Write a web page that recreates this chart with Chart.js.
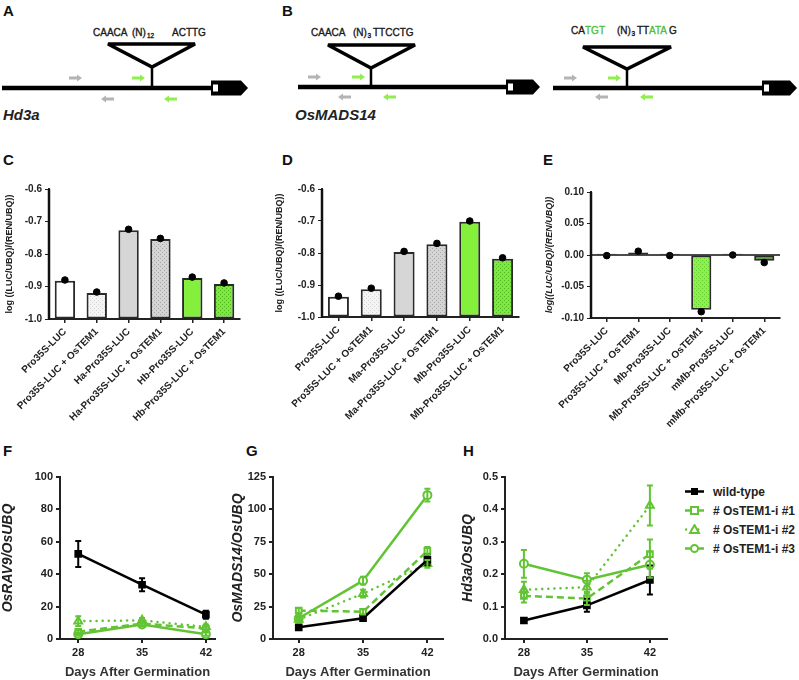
<!DOCTYPE html>
<html>
<head>
<meta charset="utf-8">
<script src="https://cdn.jsdelivr.net/npm/chart.js@4.4.0/dist/chart.umd.min.js"></script>
<style>
body { margin: 0; background: #fff; width: 799px; height: 680px; position: relative; overflow: hidden; font-family: 'Liberation Sans', Arial, sans-serif; }
canvas { position: absolute; }
.lt { position: absolute; font-weight: bold; font-size: 15px; color: #111; line-height: 1; }
#legend { position: absolute; left: 685px; top: 482px; }
.row { display: flex; align-items: center; height: 19px; font-size: 12px; font-weight: bold; color: #222; }
.row svg { margin-right: 9px; }
</style>
</head>
<body>

<!-- promoter diagrams (A, B) -->
<svg width="799" height="150" style="position:absolute;left:0;top:0" font-family="Liberation Sans, Arial, sans-serif" font-size="10" fill="#1a1a1a" stroke-width="0">
  <defs>
    <path id="ra" d="M0,-1.6 H8 V-3.6 L13,0 L8,3.6 V1.6 H0 Z"/>
    <path id="la" d="M13,-1.6 H5 V-3.6 L0,0 L5,3.6 V1.6 H13 Z"/>
  </defs>

  <g stroke="#1a1a1a" stroke-width="0.35">
  <!-- Hd3a -->
  <text x="93" y="36">CAACA</text>
  <text x="132" y="36">(N)</text><text x="147" y="38" font-size="6.5">12</text>
  <text x="172" y="36">ACTTG</text>
  <!-- OsMADS14 -->
  <text x="311" y="36">CAACA</text>
  <text x="353" y="36">(N)</text><text x="367.5" y="38" font-size="6.5">3</text>
  <text x="373" y="36">TTCCTG</text>
  <!-- mutated site -->
  <text x="571" y="34">CA</text><text x="585" y="34" fill="#4cc040" stroke="#4cc040">TGT</text>
  <text x="617" y="34">(N)</text><text x="631.5" y="36" font-size="6.5">3</text>
  <text x="637" y="34">TT</text><text x="649" y="34" fill="#4cc040" stroke="#4cc040">ATA</text><text x="669" y="34">G</text>
  </g>

  <polygon points="108,44 195,44 152,67" fill="none" stroke="#000" stroke-width="3.5"/>
  <line x1="152" y1="66" x2="152" y2="88" stroke="#000" stroke-width="2.5"/>
  <line x1="2" y1="88" x2="213" y2="88" stroke="#000" stroke-width="4.5"/>
  <path d="M211,80.5 H241 L248,88 L241,95.5 H211 Z" fill="#000"/>
  <rect x="213" y="84.5" width="5" height="7" fill="#fff"/>
  <use href="#ra" x="69" y="78" fill="#b4b4b4"/>
  <use href="#ra" x="132" y="78" fill="#90ee50"/>
  <use href="#la" x="101" y="99" fill="#b4b4b4"/>
  <use href="#la" x="164" y="99" fill="#90ee50"/>

  <polygon points="328,45 415,45 371,68" fill="none" stroke="#000" stroke-width="3.5"/>
  <line x1="371" y1="67" x2="371" y2="87" stroke="#000" stroke-width="2.5"/>
  <line x1="298" y1="87" x2="508" y2="87" stroke="#000" stroke-width="4.5"/>
  <path d="M506,79.5 H533 L540,87 L533,94.5 H506 Z" fill="#000"/>
  <rect x="508" y="83.5" width="5" height="7" fill="#fff"/>
  <use href="#ra" x="308" y="77" fill="#b4b4b4"/>
  <use href="#ra" x="352" y="77" fill="#90ee50"/>
  <use href="#la" x="338" y="97" fill="#b4b4b4"/>
  <use href="#la" x="383" y="97" fill="#90ee50"/>

  <polygon points="583,47 671,47 627,69" fill="none" stroke="#000" stroke-width="3.5"/>
  <line x1="627" y1="68" x2="627" y2="88" stroke="#000" stroke-width="2.5"/>
  <line x1="553" y1="88" x2="764" y2="88" stroke="#000" stroke-width="4.5"/>
  <path d="M762,80.5 H790 L797,88 L790,95.5 H762 Z" fill="#000"/>
  <rect x="764" y="84.5" width="5" height="7" fill="#fff"/>
  <use href="#ra" x="564" y="78" fill="#b4b4b4"/>
  <use href="#ra" x="608" y="78" fill="#90ee50"/>
  <use href="#la" x="595" y="97" fill="#b4b4b4"/>
  <use href="#la" x="640" y="97" fill="#90ee50"/>

  <text x="3" y="120" font-size="15" font-weight="bold" font-style="italic" fill="#222">Hd3a</text>
  <text x="295" y="120" font-size="15" font-weight="bold" font-style="italic" fill="#222">OsMADS14</text>
</svg>

<div class="lt" style="left:3px;top:3px">A</div>
<div class="lt" style="left:282px;top:3px">B</div>
<div class="lt" style="left:3px;top:152px">C</div>
<div class="lt" style="left:282px;top:152px">D</div>
<div class="lt" style="left:543px;top:152px">E</div>
<div class="lt" style="left:3px;top:443px">F</div>
<div class="lt" style="left:246px;top:443px">G</div>
<div class="lt" style="left:463px;top:443px">H</div>

<canvas id="chartC" width="250" height="290" style="left:0;top:150px"></canvas>
<canvas id="chartD" width="260" height="290" style="left:270px;top:150px"></canvas>
<canvas id="chartE" width="259" height="290" style="left:540px;top:150px"></canvas>
<canvas id="chartF" width="230" height="230" style="left:0;top:450px"></canvas>
<canvas id="chartG" width="230" height="230" style="left:230px;top:450px"></canvas>
<canvas id="chartH" width="215" height="230" style="left:460px;top:450px"></canvas>

<div id="legend"></div>

<script>
// ---------- data ----------
const labelsC = ['Pro35S-LUC', 'Pro35S-LUC + OsTEM1', 'Ha-Pro35S-LUC', 'Ha-Pro35S-LUC + OsTEM1', 'Hb-Pro35S-LUC', 'Hb-Pro35S-LUC + OsTEM1'];
const barsC = [-0.882, -0.920, -0.727, -0.754, -0.874, -0.892];
const dotsC = [-0.880, -0.917, -0.724, -0.752, -0.871, -0.889];

const labelsD = ['Pro35S-LUC', 'Pro35S-LUC + OsTEM1', 'Ma-Pro35S-LUC', 'Ma-Pro35S-LUC + OsTEM1', 'Mb-Pro35S-LUC', 'Mb-Pro35S-LUC + OsTEM1'];
const barsD = [-0.937, -0.913, -0.797, -0.773, -0.702, -0.818];
const dotsD = [-0.935, -0.910, -0.795, -0.770, -0.700, -0.815];

const labelsE = ['Pro35S-LUC', 'Pro35S-LUC + OsTEM1', 'Mb-Pro35S-LUC', 'Mb-Pro35S-LUC + OsTEM1', 'mMb-Pro35S-LUC', 'mMb-Pro35S-LUC + OsTEM1'];
const barsE = [0.002, 0.004, 0.002, -0.087, 0.002, -0.009];
const dotsE = [-0.001, 0.006, -0.001, -0.090, 0.000, -0.012];

const days = [28, 35, 42];
const seriesNames = ['wild-type', '# OsTEM1-i #1', '# OsTEM1-i #2', '# OsTEM1-i #3'];

// OsRAV9 (F)
const ravWT = [52.5, 33.5, 15];    const ravWTerr = [8, 4, 2.5];
const ravI1 = [4.5, 9.5, 6.5];     const ravI1err = [1, 1, 1];
const ravI2 = [11, 11.5, 7.5];     const ravI2err = [3, 1.5, 1.5];
const ravI3 = [3, 9, 3];           const ravI3err = [1, 1, 1];

// OsMADS14 (G)
const madsWT = [9, 16, 61];        const madsWTerr = [1.5, 1.5, 4];
const madsI1 = [22, 21, 68];       const madsI1err = [2, 2, 3];
const madsI2 = [15, 35, 58];       const madsI2err = [2, 3, 3];
const madsI3 = [16, 45, 111];      const madsI3err = [1.5, 3, 5];

// Hd3a (H)
const hdWT = [0.057, 0.104, 0.182]; const hdWTerr = [0.008, 0.02, 0.045];
const hdI1 = [0.133, 0.125, 0.262]; const hdI1err = [0.02, 0.02, 0.045];
const hdI2 = [0.152, 0.160, 0.412]; const hdI2err = [0.025, 0.02, 0.062];
const hdI3 = [0.232, 0.183, 0.229]; const hdI3err = [0.043, 0.02, 0.04];

// ---------- setup ----------
Chart.defaults.font.family = "'Liberation Sans', Arial, sans-serif";
Chart.defaults.animation = false;
Chart.defaults.plugins.legend.display = false;
Chart.defaults.plugins.tooltip.enabled = false;
Chart.defaults.color = '#222';

const GREEN = '#62c434';
const AXIS = '#222';

function dotted(bg, fg) {
    const c = document.createElement('canvas');
    c.width = 4; c.height = 4;
    const g = c.getContext('2d');
    g.fillStyle = bg; g.fillRect(0, 0, 4, 4);
    g.fillStyle = fg; g.fillRect(0, 0, 1, 1); g.fillRect(2, 2, 1, 1);
    return g.createPattern(c, 'repeat');
}

const fillsC = ['#ffffff', dotted('#f4f4f4', '#d2d2d2'), '#d6d6d6', dotted('#d4d4d4', '#a8a8a8'), '#84f03c', dotted('#7ee83c', '#52b824')];
const fillsD = fillsC;
const fillsE = ['#ffffff', dotted('#bdbdbd', '#8a8a8a'), '#ffffff', dotted('#8cf050', '#66cc30'), '#ffffff', '#3f8e1f'];

// y axis line and zero line for the bar panels
const barAxes = {
    id: 'barAxes',
    afterDraw(chart, args, opts) {
        const ys = chart.scales.y, a = chart.chartArea, ctx = chart.ctx;
        ctx.save();
        ctx.strokeStyle = '#111';
        ctx.lineWidth = 2.5;
        ctx.beginPath();
        ctx.moveTo(a.left, a.top); ctx.lineTo(a.left, a.bottom + 1);
        ctx.stroke();
        if (opts.zero) {
            const y = ys.getPixelForValue(0);
            ctx.lineWidth = 1.5;
            ctx.beginPath(); ctx.moveTo(a.left, y); ctx.lineTo(a.right, y); ctx.stroke();
        }
        ctx.restore();
    }
};

//
// bar panels C, D, E
//
function barChart(id, labels, bars, dots, fills, o) {
    return new Chart(document.getElementById(id), {
        type: 'bar',
        data: {
            labels: labels,
            datasets: [{
                type: 'line',
                data: dots,
                showLine: false,
                pointRadius: 3.3,
                pointBackgroundColor: '#000',
                pointBorderColor: '#000',
                order: 0
            }, {
                data: bars,
                backgroundColor: fills,
                borderColor: '#2a2a2a',
                borderWidth: 2,
                borderSkipped: false,
                base: o.base,
                categoryPercentage: 1,
                barPercentage: 0.64,
                order: 1
            }]
        },
        options: {
            responsive: false,
            layout: { padding: { top: o.padTop, right: o.padRight, left: 0, bottom: 0 } },
            plugins: { barAxes: { zero: !!o.zero } },
            scales: {
                x: {
                    offset: true,
                    border: { color: AXIS, width: 2 },
                    grid: { drawOnChartArea: false, offset: false, tickLength: 4, color: AXIS, lineWidth: 1.5 },
                    ticks: { autoSkip: false, minRotation: 45, maxRotation: 45,
                             font: { size: 10, weight: 700 } },
                    afterFit: s => { s.height = o.xH; }
                },
                y: {
                    min: o.min, max: o.max,
                    border: { color: AXIS, width: 2 },
                    grid: { drawOnChartArea: false, tickLength: 4, color: AXIS },
                    ticks: { stepSize: o.step, font: { size: 10, weight: 700 },
                             callback: v => v.toFixed(o.dec) },
                    title: { display: true, text: o.title, font: { size: 9, weight: 700, style: o.italic ? 'italic' : 'normal' } },
                    afterFit: s => { s.width = o.yW; }
                }
            }
        },
        plugins: [barAxes]
    });
}

barChart('chartC', labelsC, barsC, dotsC, fillsC,
    { base: -1, min: -1, max: -0.6, step: 0.1, dec: 1, title: 'log ((LUC/UBQ)/(REN/UBQ))', yW: 49, padTop: 39, padRight: 10, xH: 121 });
barChart('chartD', labelsD, barsD, dotsD, fillsD,
    { base: -1, min: -1, max: -0.6, step: 0.1, dec: 1, title: 'log ((LUC/UBQ)/(REN/UBQ))', yW: 52, padTop: 39, padRight: 11, xH: 123 });
barChart('chartE', labelsE, barsE, dotsE, fillsE,
    { base: 0, min: -0.1, max: 0.1, step: 0.05, dec: 2, title: 'log((LUC/UBQ)/(REN/UBQ))', italic: true, zero: true, yW: 51, padTop: 42, padRight: 19, xH: 122 });

//
// line panels F, G, H
//
const styles = [
    { color: '#000', dash: [], point: 'rect', fill: '#000', r: 4 },
    { color: GREEN, dash: [7, 4], point: 'rect', fill: '#fff', r: 4 },
    { color: GREEN, dash: [0.1, 6], point: 'triangle', fill: '#fff', r: 4.5 },
    { color: GREEN, dash: [], point: 'circle', fill: '#fff', r: 4 }
];

const errBars = {
    id: 'errBars',
    afterDatasetsDraw(chart) {
        const ctx = chart.ctx, xs = chart.scales.x, ys = chart.scales.y;
        chart.data.datasets.forEach(ds => {
            if (!ds.err) return;
            ctx.save();
            ctx.strokeStyle = ds.borderColor;
            ctx.lineWidth = 2;
            ds.data.forEach((p, i) => {
                const x = xs.getPixelForValue(p.x);
                const y1 = ys.getPixelForValue(p.y - ds.err[i]);
                const y2 = ys.getPixelForValue(p.y + ds.err[i]);
                ctx.beginPath();
                ctx.moveTo(x, y1); ctx.lineTo(x, y2);
                ctx.moveTo(x - 3, y1); ctx.lineTo(x + 3, y1);
                ctx.moveTo(x - 3, y2); ctx.lineTo(x + 3, y2);
                ctx.stroke();
            });
            ctx.restore();
        });
    }
};

function lineChart(id, series, errs, o) {
    return new Chart(document.getElementById(id), {
        type: 'line',
        data: {
            datasets: series.map((vals, k) => ({
                label: seriesNames[k],
                data: days.map((d, i) => ({ x: d, y: vals[i] })),
                err: errs[k],
                borderColor: styles[k].color,
                borderWidth: 2.5,
                borderDash: styles[k].dash,
                borderCapStyle: k === 2 ? 'round' : 'butt',
                pointStyle: styles[k].point,
                pointRadius: styles[k].r,
                pointBorderWidth: 2,
                pointBackgroundColor: styles[k].fill,
                pointBorderColor: styles[k].color,
                tension: 0,
                fill: false
            }))
        },
        options: {
            responsive: false,
            layout: { padding: { top: 27, right: o.padRight, left: 0, bottom: 0 } },
            scales: {
                x: {
                    type: 'linear', min: o.xMin, max: o.xMax,
                    afterBuildTicks: s => { s.ticks = days.map(v => ({ value: v })); },
                    border: { color: AXIS, width: 2 },
                    grid: { drawOnChartArea: false, tickLength: 4, color: AXIS, lineWidth: 2 },
                    ticks: { font: { size: 11, weight: 'bold' }, color: '#222', padding: 3 },
                    title: { display: true, text: 'Days After Germination', font: { size: 13, weight: 'bold' }, color: '#333', padding: { top: 1, bottom: 0 } },
                    afterFit: s => { s.height = 41; }
                },
                y: {
                    min: 0, max: o.yMax,
                    border: { color: AXIS, width: 2 },
                    grid: { drawOnChartArea: false, tickLength: 4, color: AXIS, lineWidth: 2 },
                    ticks: { stepSize: o.step, font: { size: 11, weight: 'bold' }, color: '#222', padding: 3,
                             callback: v => v.toFixed(o.dec) },
                    title: { display: true, text: o.title, font: { size: 14, weight: 'bold', style: 'italic' }, color: '#222', padding: { top: 0, bottom: 2 } },
                    afterFit: s => { s.width = o.yW; }
                }
            }
        },
        plugins: [errBars]
    });
}

lineChart('chartF', [ravWT, ravI1, ravI2, ravI3], [ravWTerr, ravI1err, ravI2err, ravI3err],
    { xMin: 26, xMax: 43, yMax: 100, step: 20, dec: 0, title: 'OsRAV9/OsUBQ', yW: 60, padRight: 15 });
lineChart('chartG', [madsWT, madsI1, madsI2, madsI3], [madsWTerr, madsI1err, madsI2err, madsI3err],
    { xMin: 25.2, xMax: 43.7, yMax: 125, step: 25, dec: 0, title: 'OsMADS14/OsUBQ', yW: 43, padRight: 17 });
lineChart('chartH', [hdWT, hdI1, hdI2, hdI3], [hdWTerr, hdI1err, hdI2err, hdI3err],
    { xMin: 25.9, xMax: 43.9, yMax: 0.5, step: 0.1, dec: 1, title: 'Hd3a/OsUBQ', yW: 45, padRight: 8 });

//
// legend
//
const legendMarks = [
    '<rect x="6" y="2" width="7" height="7" fill="#000"/>',
    '<rect x="6" y="2" width="7" height="7" fill="#fff" stroke="' + GREEN + '" stroke-width="2"/>',
    '<polygon points="9.5,1 14,9 5,9" fill="#fff" stroke="' + GREEN + '" stroke-width="2"/>',
    '<circle cx="9.5" cy="5.5" r="3.5" fill="#fff" stroke="' + GREEN + '" stroke-width="2"/>'
];
const legendLines = [
    '<line x1="0" y1="5.5" x2="19" y2="5.5" stroke="#000" stroke-width="2.5"/>',
    '<line x1="0" y1="5.5" x2="19" y2="5.5" stroke="' + GREEN + '" stroke-width="2.5"/>',
    '<line x1="1" y1="5.5" x2="19" y2="5.5" stroke="' + GREEN + '" stroke-width="2.5" stroke-dasharray="0.1 6" stroke-linecap="round"/>',
    '<line x1="0" y1="5.5" x2="19" y2="5.5" stroke="' + GREEN + '" stroke-width="2.5"/>'
];
document.getElementById('legend').innerHTML = seriesNames.map((n, k) =>
    '<div class="row"><svg width="19" height="11">' + legendLines[k] + legendMarks[k] + '</svg>' + n + '</div>'
).join('');
</script>
</body>
</html>
